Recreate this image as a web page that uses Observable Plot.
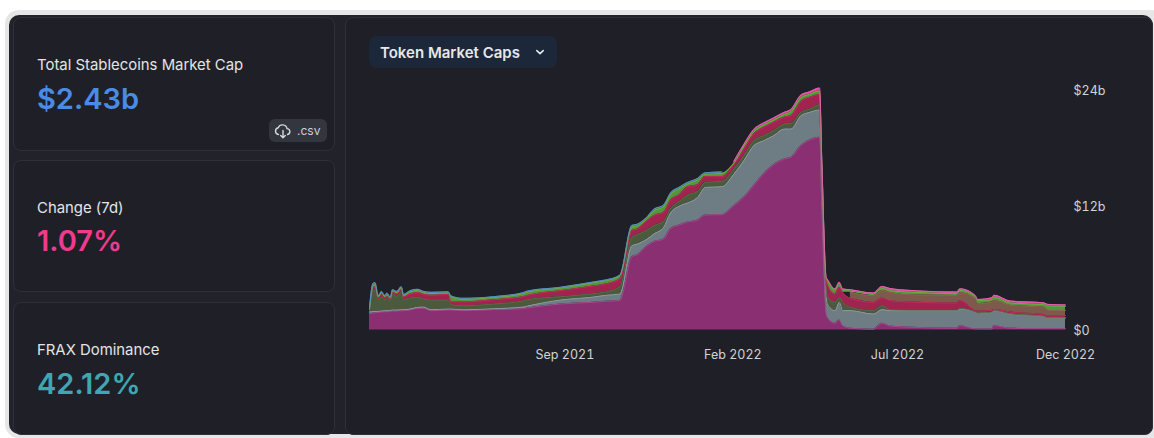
<!DOCTYPE html>
<html><head><meta charset="utf-8">
<script src="https://cdn.jsdelivr.net/npm/d3@7"></script>
<script src="https://cdn.jsdelivr.net/npm/@observablehq/plot@0.6"></script>
<style>
html,body{margin:0;padding:0;background:#fff;width:1154px;height:438px;overflow:hidden;font-family:Inter,sans-serif}
.frame{position:absolute;left:5px;top:10px;width:1160px;height:428px;background:#e6e6e6;border-radius:14px}
.dark{position:absolute;left:9px;top:15px;width:1144px;height:419px;background:#22232a;border-radius:10px;overflow:hidden}
.card{position:absolute;box-sizing:border-box;background:#1f2027;border:1px solid #2e2f37;border-radius:8px}
.lab{position:absolute;left:37px;font-size:14.9px;color:#e4e4e6;line-height:18px;white-space:nowrap}
.val{position:absolute;left:37px;font-size:29px;font-weight:600;line-height:36px;white-space:nowrap}
.btn{position:absolute;left:369px;top:36px;width:188px;height:32px;background:#1c2739;border-radius:8px;color:#e6e7ea;font-size:15px;font-weight:600;line-height:33px}
.btn span{position:absolute;left:11px}
.csv{position:absolute;left:269px;top:119px;width:58px;height:23px;background:#34363f;border-radius:6px;color:#cfd0d4;font-size:12px;line-height:23px}
.csv span{position:absolute;left:28px}
#chart{position:absolute;left:345px;top:70px}
#chart svg{background:transparent;overflow:visible}
</style></head><body>
<div class="frame"></div><div class="dark"></div>
<div class="card" style="left:13px;top:17px;width:322px;height:134px"></div>
<div class="card" style="left:13px;top:160px;width:322px;height:132px"></div>
<div class="card" style="left:13px;top:302px;width:322px;height:133px"></div>
<div class="card" style="left:345px;top:17px;width:808px;height:418px"></div>
<div class="lab" style="top:56px">Total Stablecoins Market Cap</div>
<div class="val" style="top:81px;color:#4a8be6">$2.43b</div>
<div class="csv"><svg width="18" height="18" viewBox="0 0 18 18" style="position:absolute;left:5px;top:3px" fill="none" stroke="#d6d7da" stroke-width="1.4" stroke-linecap="round" stroke-linejoin="round"><path d="M4.5 12.5a3.4 3.4 0 0 1-.3-6.7 4.6 4.6 0 0 1 8.8.8 3 3 0 0 1 .6 5.9"/><path d="M9 8.5v7M6.7 13.4 9 15.7l2.3-2.3"/></svg><span>.csv</span></div>
<div class="lab" style="top:199px">Change (7d)</div>
<div class="val" style="top:223px;color:#ef3a8e">1.07%</div>
<div class="lab" style="top:341px">FRAX Dominance</div>
<div class="val" style="top:366px;color:#3fa7b4">42.12%</div>
<div class="btn"><span>Token Market Caps</span><svg width="12" height="12" viewBox="0 0 12 12" style="position:absolute;left:165px;top:10px" fill="none" stroke="#e6e7ea" stroke-width="1.6" stroke-linecap="round" stroke-linejoin="round"><path d="M2.8 4.6 6 7.6l3.2-3"/></svg></div>
<div id="chart"></div>
<script>
const dates = ["2021-03-07","2021-03-10","2021-03-12","2021-03-15","2021-03-18","2021-03-21","2021-03-23","2021-03-26","2021-03-28","2021-04-01","2021-04-05","2021-04-07","2021-04-13","2021-04-20","2021-04-25","2021-05-02","2021-05-18","2021-05-20","2021-05-31","2021-06-28","2021-07-25","2021-07-29","2021-08-28","2021-09-27","2021-10-08","2021-10-21",
"2021-11-01","2021-11-06","2021-11-15","2021-11-21","2021-11-30","2021-12-06","2021-12-15","2021-12-21","2021-12-31","2022-01-07","2022-01-22","2022-02-02","2022-02-11","2022-02-20","2022-03-01","2022-03-10","2022-03-20","2022-03-26","2022-04-04","2022-04-12","2022-04-21","2022-04-23",
"2022-04-27","2022-04-28","2022-05-05","2022-05-09","2022-05-12","2022-05-19","2022-06-09","2022-06-17","2022-06-24","2022-07-13","2022-08-24","2022-08-27","2022-09-10","2022-09-12","2022-09-25","2022-09-27","2022-10-12","2022-11-11","2022-11-15","2022-12-01"];
const frax = [1.67,1.67,1.73,1.77,1.8,1.83,1.83,1.87,1.9,1.9,1.93,1.93,2,2.17,2.17,1.93,2,2,1.95,2.03,2.13,2.2,2.6,2.77,2.87,2.93,
7.33,7.53,8.43,8.83,9.1,10.1,10.53,10.77,11,11.5,11.53,12.43,13.27,14.43,15.6,16.5,17.1,17.27,18.43,19,19.27,12.3,
1.6,1.27,.67,1,.43,.17,.07,.67,.4,.27,.17,.43,.1,.1,.1,.43,.17,.13,.13,.13];
const gray = [.13,.17,.13,.1,.1,.1,.1,.1,.1,.1,.1,.1,.1,.1,.13,.1,.1,.1,.07,.1,.17,.2,.4,.53,.6,.67,
1.1,1.07,.67,.77,1.17,1.57,1.9,1.9,2.27,2.77,2.8,3.17,3.67,4,3.33,2.93,3,2.83,3,2.77,2.73,3.5,
1.67,1.33,1.27,1.77,1.5,1.77,1.53,1.37,1.53,1.67,1.77,1.67,1.67,1.57,1.67,1.5,1.43,1.23,1.07,1.07];
const olive = [.13,2.1,2.13,1.13,1.43,1.07,1.27,.97,1.6,1.37,1.8,1,1.1,1,.8,.97,.9,.43,.4,.47,.6,.63,.33,.33,.33,.73,
.83,.93,.9,.83,.6,.43,.5,.77,.6,.5,.53,.5,.5,.5,.5,.5,.5,.57,.33,.33,.53,.3,
.67,.67,.83,.5,.83,.33,.33,.4,.1,.05,.05,.05,.02,.02,.02,.02,.02,.02,.02,.02];
const red = [.1,.27,.33,.2,.27,.2,.2,.17,.2,.23,.27,.27,.4,.47,.47,.47,.55,.33,.4,.43,.43,.43,.6,.77,.8,.77,
.67,.57,.93,1,.9,.83,.67,.83,.67,.57,.47,.5,.67,.67,.83,.83,.67,.77,1.1,1.17,1,.7,
1,1.33,.83,1,1,.9,.83,.77,.9,.8,.7,.8,.15,.2,.17,.1,.17,.17,.17,.23];
const brown = [0,0,0,0,0,0,0,0,0,0,0,0,0,0,0,0,0,0,0,0,0,0,0,0,0,0,
0,0,0,0,0,0,0,0,0,0,0,0,0,0,0,0,0,0,0,0,0,0,
0,0,0,0,0,.6,.67,.73,.83,.73,.77,.77,1.17,.73,.83,.9,.67,.73,.57,.5];
const green = [.07,.13,.27,.13,.13,.13,.13,.1,.13,.13,.13,.13,.2,.2,.2,.17,.17,.47,.25,.23,.3,.33,.27,.33,.33,.33,
.37,.33,.23,.47,.57,.57,.57,.3,.47,.23,.33,.1,.23,.23,.23,.23,.3,.4,.37,.3,.37,.15,
.23,.4,.4,.4,.25,.13,.17,.23,.17,.27,.17,.23,.23,.33,.23,.33,.23,.27,.43,.43];
const steel = [.1,.27,.17,.1,.13,.1,.17,.07,.1,.13,.1,.13,.13,.13,.1,.13,.1,.1,.1,.07,.1,.1,.07,.07,.07,.05,
.15,.15,.15,.15,.15,.15,.15,.15,.15,.15,.15,0,0,0,0,0,0,0,0,0,0,0,
0,0,0,0,0,0,0,0,0,0,0,0,0,0,0,0,0,0,0,0];
const rose = [0,0,0,0,0,0,0,0,0,0,0,0,0,0,0,0,0,0,0,0,0,0,0,0,0,0,
0,0,0,0,0,0,0,0,0,0,0,.17,.2,.2,.2,.2,.2,.22,.25,.25,.3,.1,
.1,.1,.1,.1,.1,.13,.1,.17,.23,.17,.17,.17,.1,.1,.2,.2,.2,.17,.17,.13];
const names = ["FRAX","Gray","Olive","Red","Brown","Green","Steel","Rose"];
const series = [frax,gray,olive,red,brown,green,steel,rose];
const fills =   ["#8a2f72","#6e7c83","#4b5a3d","#a0244f","#7d5a4b","#55963c","#4a7fa0","#d94a9c"];
const strokes = ["#a04a8c","#8e999e","#5a6a45","#c02c5c","#8a6550","#6cb043","#5a8fc0","#e35fb0"];
const rows = [];
dates.forEach((d,i)=>names.forEach((n,j)=>{ if(series[j][i]>0) rows.push({date:new Date(d),name:n,value:series[j][i]}); }));
const xTicks = ["2021-09-01","2022-02-01","2022-07-01","2022-12-01"].map(d=>new Date(d));
const stackOpts = {x:"date",y:"value",z:"name",order:names};
const axisColor = "#d2d3d6";
const chart = Plot.plot({
  width:809,height:300,marginLeft:24,marginRight:89,marginTop:19.5,marginBottom:40.5,
  style:{background:"transparent",fontFamily:"Inter, sans-serif",overflow:"visible"},
  x:{type:"utc",domain:[new Date("2021-03-07"),new Date("2022-12-01")]},
  y:{domain:[0,24]},
  color:{domain:names,range:fills},
  marks:[
    Plot.areaY(rows,{...stackOpts,fill:"name",curve:"monotone-x"}),
    Plot.line(rows,Plot.stackY2({...stackOpts,stroke:d=>strokes[names.indexOf(d.name)],strokeWidth:1,curve:"monotone-x"})),
    Plot.axisX(xTicks,{tickSize:0,tickPadding:20.5,dx:0,tickFormat:d3.utcFormat("%b %Y"),label:null,fontSize:12.5,color:axisColor,textAnchor:"middle",lineAnchor:"top"}),
    Plot.axisY([24],{anchor:"right",tickSize:0,tickPadding:8,dy:0.5,tickFormat:d=>`$${d}b`,label:null,fontSize:12.5,color:axisColor}),
    Plot.axisY([12],{anchor:"right",tickSize:0,tickPadding:8,dy:-3.5,tickFormat:d=>`$${d}b`,label:null,fontSize:12.5,color:axisColor}),
    Plot.axisY([0],{anchor:"right",tickSize:0,tickPadding:8,dy:0.5,tickFormat:()=>"$0",label:null,fontSize:12.5,color:axisColor})
  ]
});
document.getElementById("chart").appendChild(chart);
</script>
</body></html>
